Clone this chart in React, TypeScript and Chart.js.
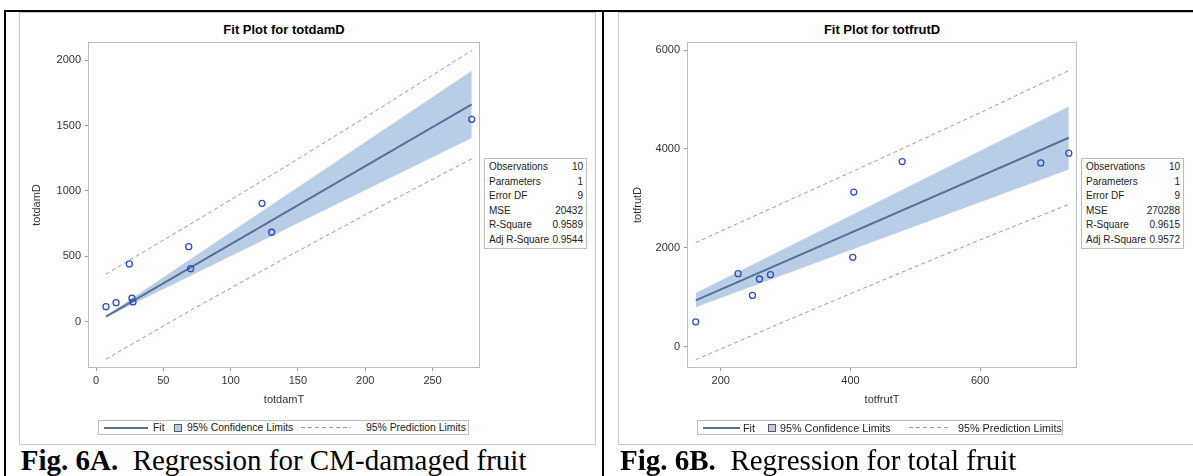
import React, { useEffect, useRef } from "react";
import { Chart, registerables } from "chart.js";

Chart.register(...registerables);

// ---------- Panel A: totdamD vs totdamT ----------
const damT = [7.4, 14.9, 24.8, 26.7, 27.5, 68.9, 70.3, 123.3, 130.5, 279.1];
const damD = [117, 147, 443, 181, 153, 575, 407, 906, 685, 1547];
const damFitX = [7.4, 279.1];
const damFitY = [40, 1662];
const damClX = [7.4, 279.1];
const damClLower = [35, 1405];
const damClUpper = [47, 1918];
const damPlX = [7.4, 70, 140, 210, 279.1];
const damPlUpper = [365, 746, 1181, 1626, 2073];
const damPlLower = [-284, 87, 485, 874, 1245];
const damXTicks = [0, 50, 100, 150, 200, 250];
const damYTicks = [0, 500, 1000, 1500, 2000];
const damStats = ["10", "1", "9", "20432", "0.9589", "0.9544"];

// ---------- Panel B: totfrutD vs totfrutT ----------
const frutT = [161.4, 226.7, 248.9, 259.7, 276.7, 403.6, 405.1, 479.8, 693.5, 736.7];
const frutD = [502, 1476, 1036, 1368, 1456, 1807, 3127, 3744, 3716, 3913];
const frutFitX = [161.4, 736.7];
const frutFitY = [935, 4225];
const frutClX = [161.4, 736.7];
const frutClLower = [795, 3585];
const frutClUpper = [1085, 4860];
const frutPlX = [161.4, 300, 450, 600, 736.7];
const frutPlUpper = [2105, 2928, 3823, 4732, 5584];
const frutPlLower = [-265, 518, 1345, 2160, 2877];
const frutXTicks = [200, 400, 600];
const frutYTicks = [0, 2000, 4000, 6000];
const frutStats = ["10", "1", "9", "270288", "0.9615", "0.9572"];

const statLabels = ["Observations", "Parameters", "Error DF", "MSE", "R-Square", "Adj R-Square"];

const BAND = "#B9CDE6";
const FIT = "#5C6F96";
const PRED = "#8A97DD";
const MARK = "#2E4FB8";
const FRAME = "#BDBDBD";
const TICK = "#9A9A9A";
const TXT = "#333333";
const SANS = "'Liberation Sans', Arial, Helvetica, sans-serif";
const SERIF = "'Liberation Serif', 'Times New Roman', serif";

type ChartProps = {
  left: number; top: number; width: number; height: number;
  pad: { left: number; right: number; top: number; bottom: number };
  yW: number; xH: number;
  xMin: number; xMax: number; yMin: number; yMax: number;
  xTicks: number[]; yTicks: number[];
  xTitle: string; yTitle: string;
  obsX: number[]; obsY: number[];
  fitX: number[]; fitY: number[];
  clX: number[]; clLower: number[]; clUpper: number[];
  plX: number[]; plUpper: number[]; plLower: number[];
};

const pts = (xs: number[], ys: number[]) => xs.map((x, i) => ({ x, y: ys[i] }));

function FitChart(p: ChartProps) {
  const ref = useRef<HTMLCanvasElement>(null);
  useEffect(() => {
    const framePlugin = {
      id: "frame",
      afterDatasetsDraw(chart: any) {
        const { ctx, chartArea: a } = chart;
        ctx.save();
        ctx.strokeStyle = FRAME;
        ctx.lineWidth = 1;
        const l = Math.round(a.left) - 0.5;
        const t = Math.round(a.top) - 0.5;
        const r = Math.round(a.right) + 0.5;
        const b = Math.round(a.bottom) + 0.5;
        ctx.strokeRect(l, t, r - l, b - t);
        ctx.restore();
      },
    };
    const tickFont = { family: SANS, size: 11 };
    const titleFont = { family: SANS, size: 11 };
    const chart = new Chart(ref.current as HTMLCanvasElement, {
      type: "line",
      data: {
        datasets: [
          { label: "clLower", data: pts(p.clX, p.clLower), borderWidth: 0, pointRadius: 0, fill: false, order: 5, borderColor: BAND },
          { label: "95% Confidence Limits", data: pts(p.clX, p.clUpper), borderWidth: 0, pointRadius: 0, fill: "-1", backgroundColor: BAND, borderColor: BAND, order: 5 },
          { label: "95% Prediction Limits", data: pts(p.plX, p.plUpper), borderColor: PRED, borderWidth: 1, borderDash: [4, 3], pointRadius: 0, fill: false, order: 3 },
          { label: "plLower", data: pts(p.plX, p.plLower), borderColor: PRED, borderWidth: 1, borderDash: [4, 3], pointRadius: 0, fill: false, order: 3 },
          { label: "Fit", data: pts(p.fitX, p.fitY), borderColor: FIT, borderWidth: 2, pointRadius: 0, fill: false, order: 2 },
          {
            label: "obs", data: pts(p.obsX, p.obsY), showLine: false, pointRadius: 3, pointBorderWidth: 1.3,
            pointBorderColor: MARK, pointBackgroundColor: "rgba(0,0,0,0)", borderColor: MARK, fill: false, order: 1,
          },
        ] as any,
      },
      options: {
        responsive: false,
        maintainAspectRatio: false,
        animation: false,
        events: [],
        layout: { padding: p.pad },
        plugins: { legend: { display: false }, tooltip: { enabled: false }, title: { display: false } },
        scales: {
          x: {
            type: "linear", position: "bottom", min: p.xMin, max: p.xMax,
            afterBuildTicks: (s: any) => { s.ticks = p.xTicks.map((v) => ({ value: v })); },
            afterFit: (s: any) => { s.height = p.xH; },
            ticks: { color: TXT, font: tickFont, padding: 3, maxRotation: 0, autoSkip: false, callback: (v: any) => String(v) },
            grid: { drawOnChartArea: false, drawTicks: true, tickLength: 4, color: TICK, lineWidth: 1 },
            border: { display: false },
            title: { display: true, text: p.xTitle, color: TXT, font: titleFont, padding: 0 },
          },
          y: {
            type: "linear", position: "left", min: p.yMin, max: p.yMax,
            afterBuildTicks: (s: any) => { s.ticks = p.yTicks.map((v) => ({ value: v })); },
            afterFit: (s: any) => { s.width = p.yW; },
            ticks: { color: TXT, font: tickFont, padding: 4, autoSkip: false, callback: (v: any) => String(v) },
            grid: { drawOnChartArea: false, drawTicks: true, tickLength: 4, color: TICK, lineWidth: 1 },
            border: { display: false },
            title: { display: true, text: p.yTitle, color: TXT, font: titleFont, padding: 0 },
          },
        } as any,
      },
      plugins: [framePlugin],
    });
    return () => chart.destroy();
  }, []);
  return (
    <canvas
      ref={ref}
      width={p.width}
      height={p.height}
      style={{ position: "absolute", left: p.left, top: p.top, width: p.width, height: p.height }}
    />
  );
}

function StatsTable(props: { left: number; top: number; values: string[] }) {
  return (
    <div
      style={{
        position: "absolute", left: props.left, top: props.top, width: 103, height: 91,
        boxSizing: "border-box", border: `1px solid ${FRAME}`, background: "#fff",
        paddingTop: 1, fontFamily: SANS, fontSize: 10, color: "#222",
      }}
    >
      {statLabels.map((lab, i) => (
        <div key={lab} style={{ display: "flex", justifyContent: "space-between", height: 14.5, lineHeight: "14.5px", padding: "0 3px 0 4px" }}>
          <span>{lab}</span>
          <span>{props.values[i]}</span>
        </div>
      ))}
    </div>
  );
}

type LegendSpec = {
  left: number; width: number; font: number;
  lineL: number; lineW: number; fitL: number; sqL: number; confL: number; dashL: number; dashW: number; predL: number;
};

function Legend(s: LegendSpec) {
  const txt = (l: number, t: string) => (
    <span style={{ position: "absolute", left: l, top: 0, lineHeight: "14px", whiteSpace: "nowrap" }}>{t}</span>
  );
  return (
    <div
      style={{
        position: "absolute", left: s.left, top: 420, width: s.width, height: 15, boxSizing: "border-box",
        border: `1px solid ${FRAME}`, background: "#fff", fontFamily: SANS, fontSize: s.font, color: "#222",
      }}
    >
      <div style={{ position: "absolute", left: s.lineL, top: 5.5, width: s.lineW, height: 2, background: FIT }} />
      {txt(s.fitL, "Fit")}
      <div style={{ position: "absolute", left: s.sqL, top: 2.5, width: 8, height: 8, boxSizing: "border-box", border: "1px solid #5a5a5a", background: BAND }} />
      {txt(s.confL, "95% Confidence Limits")}
      <div
        style={{
          position: "absolute", left: s.dashL, top: 6, width: s.dashW, height: 1,
          background: `repeating-linear-gradient(to right, ${PRED} 0px, ${PRED} 4px, transparent 4px, transparent 7px)`,
        }}
      />
      {txt(s.predL, "95% Prediction Limits")}
    </div>
  );
}

function Title(props: { cx: number; text: string }) {
  return (
    <div
      style={{
        position: "absolute", left: props.cx, top: 22, transform: "translateX(-50%)", whiteSpace: "nowrap",
        fontFamily: SANS, fontWeight: "bold", fontSize: 13, lineHeight: "16px", color: "#000",
      }}
    >
      {props.text}
    </div>
  );
}

function Caption(props: { left: number; bold: string; rest: string }) {
  return (
    <div
      style={{
        position: "absolute", left: props.left, top: 446, whiteSpace: "pre", fontFamily: SERIF,
        fontSize: 29, lineHeight: "29px", color: "#000",
      }}
    >
      <b>{props.bold}</b>
      {props.rest}
    </div>
  );
}

export default function App() {
  return (
    <div style={{ position: "absolute", left: 0, top: 0, width: 1193, height: 476, overflow: "hidden", background: "#fff" }}>
      {/* SAS graph frames */}
      <div style={{ position: "absolute", left: 19, top: 12, width: 577, height: 433, boxSizing: "border-box", border: "1px solid #C8C8C8" }} />
      <div style={{ position: "absolute", left: 618, top: 12, width: 600, height: 433, boxSizing: "border-box", border: "1px solid #C8C8C8" }} />

      <Title cx={284} text="Fit Plot for totdamD" />
      <Title cx={882} text="Fit Plot for totfrutD" />

      <FitChart
        left={20} top={13} width={575} height={430}
        pad={{ left: 10, right: 116, top: 30, bottom: 36 }} yW={59} xH={40}
        xMin={-5.2} xMax={284.5} yMin={-344} yMax={2130}
        xTicks={damXTicks} yTicks={damYTicks} xTitle="totdamT" yTitle="totdamD"
        obsX={damT} obsY={damD} fitX={damFitX} fitY={damFitY}
        clX={damClX} clLower={damClLower} clUpper={damClUpper}
        plX={damPlX} plUpper={damPlUpper} plLower={damPlLower}
      />
      <FitChart
        left={619} top={13} width={574} height={430}
        pad={{ left: 12, right: 117, top: 30, bottom: 36 }} yW={57} xH={40}
        xMin={149.5} xMax={747.8} yMin={-412} yMax={6142}
        xTicks={frutXTicks} yTicks={frutYTicks} xTitle="totfrutT" yTitle="totfrutD"
        obsX={frutT} obsY={frutD} fitX={frutFitX} fitY={frutFitY}
        clX={frutClX} clLower={frutClLower} clUpper={frutClUpper}
        plX={frutPlX} plUpper={frutPlUpper} plLower={frutPlLower}
      />

      <StatsTable left={484} top={158} values={damStats} />
      <StatsTable left={1081} top={158} values={frutStats} />

      <Legend left={98} width={371} font={10.4} lineL={5} lineW={44} fitL={54} sqL={75} confL={88} dashL={202} dashW={50} predL={267} />
      <Legend left={697} width={366} font={10.8} lineL={5} lineW={37} fitL={45} sqL={70} confL={82} dashL={211} dashW={40} predL={260} />

      <Caption left={20.7} bold="Fig. 6A." rest="  Regression for CM-damaged fruit" />
      <Caption left={620} bold="Fig. 6B." rest="  Regression for total fruit" />

      {/* table borders */}
      <div style={{ position: "absolute", left: 4, top: 10, width: 1189, height: 2, background: "#000" }} />
      <div style={{ position: "absolute", left: 4, top: 10, width: 2, height: 466, background: "#000" }} />
      <div style={{ position: "absolute", left: 602, top: 10, width: 2, height: 466, background: "#000" }} />
    </div>
  );
}
